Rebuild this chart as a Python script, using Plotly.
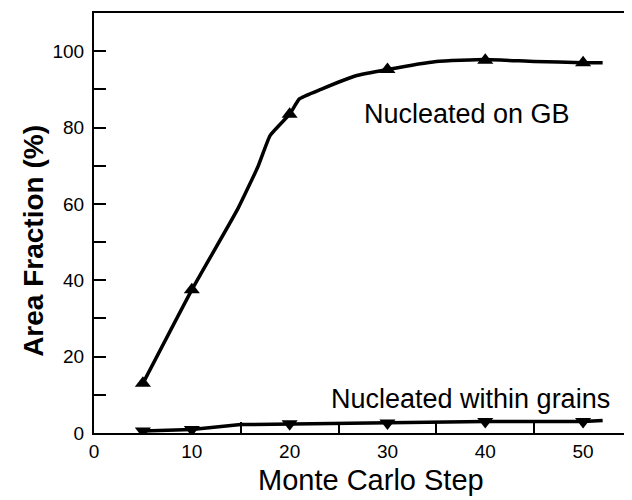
import plotly.graph_objects as go

# Marker data
steps = [5, 10, 20, 30, 40, 50]
gb_values = [13, 37.5, 83.5, 95.2, 97.6, 97]
grain_values = [0.5, 0.9, 2.4, 2.6, 3.0, 3.0]

# Curves
gb_curve_x = [5, 10, 14.7, 16.8, 18, 20, 21, 23.2, 26.7, 30, 35, 40, 45, 50, 52]
gb_curve_y = [13, 37.5, 58.7, 70, 77.9, 83.5, 87.5, 90, 93.5, 95.2, 97.3, 97.8, 97.3, 97, 97]
grain_curve_x = [5, 10, 15, 20, 25, 30, 35, 40, 45, 50, 52]
grain_curve_y = [0.5, 0.9, 2.2, 2.4, 2.5, 2.6, 2.8, 3.0, 3.0, 3.0, 3.3]

x_ticks = [0, 10, 20, 30, 40, 50]
x_minor_ticks = [15, 25, 35, 45]
y_ticks = [0, 20, 40, 60, 80, 100]

FONT = "Liberation Sans, Arial, sans-serif"

fig = go.Figure()
fig.add_trace(go.Scatter(x=gb_curve_x, y=gb_curve_y, mode="lines",
                         line=dict(color="black", width=3.5, shape="spline", smoothing=0.4),
                         showlegend=False, hoverinfo="skip"))
fig.add_trace(go.Scatter(x=steps, y=gb_values, mode="markers",
                         marker=dict(symbol="triangle-up", size=14, color="black"),
                         showlegend=False))
fig.add_trace(go.Scatter(x=grain_curve_x, y=grain_curve_y, mode="lines",
                         line=dict(color="black", width=3.5),
                         showlegend=False, hoverinfo="skip"))
fig.add_trace(go.Scatter(x=steps, y=grain_values, mode="markers",
                         marker=dict(symbol="triangle-down", size=14, color="black"),
                         showlegend=False))

fig.add_annotation(x=38.1, y=83.5, text="Nucleated on GB", showarrow=False,
                   xanchor="center", yanchor="middle",
                   font=dict(family=FONT, size=27, color="black"))
fig.add_annotation(x=38.5, y=9.0, text="Nucleated within grains", showarrow=False,
                   xanchor="center", yanchor="middle",
                   font=dict(family=FONT, size=27, color="black"))

# axis titles placed as paper-anchored texts
fig.add_annotation(xref="paper", yref="paper", x=0.515, y=-0.113,
                   text="Monte Carlo Step", showarrow=False,
                   xanchor="center", yanchor="middle",
                   font=dict(family=FONT, size=29, color="black"))
fig.add_annotation(xref="paper", yref="paper", x=-0.113, y=0.458,
                   text="<b>Area Fraction (%)</b>", showarrow=False, textangle=-90,
                   xanchor="center", yanchor="middle",
                   font=dict(family=FONT, size=28, color="black"))

fig.update_layout(
    width=632, height=500,
    margin=dict(l=86, r=8, t=5, b=75),
    paper_bgcolor="white", plot_bgcolor="white",
    font=dict(family=FONT, color="black"),
)
fig.update_xaxes(
    range=[0, 55], tickvals=x_ticks, ticktext=[str(v) for v in x_ticks],
    ticks="", showgrid=False, zeroline=False, automargin=False,
    showline=True, linecolor="black", linewidth=2, mirror=True,
    tickfont=dict(family=FONT, size=19, color="black"),
    ticklabelstandoff=0,
    minor=dict(tickvals=x_minor_ticks, ticks="inside", ticklen=11, tickwidth=1.5,
               tickcolor="black", showgrid=False),
)
fig.update_yaxes(
    range=[0, 110], tickvals=y_ticks, ticktext=[str(v) for v in y_ticks],
    ticks="inside", ticklen=12, tickwidth=1.5, tickcolor="black",
    showgrid=False, zeroline=False, automargin=False,
    showline=True, linecolor="black", linewidth=2, mirror=True,
    tickfont=dict(family=FONT, size=19, color="black"),
    ticklabelstandoff=4,
    minor=dict(dtick=10, ticks="inside", ticklen=12, tickwidth=1.5, tickcolor="black", showgrid=False),
)

fig.write_html("out.html")
